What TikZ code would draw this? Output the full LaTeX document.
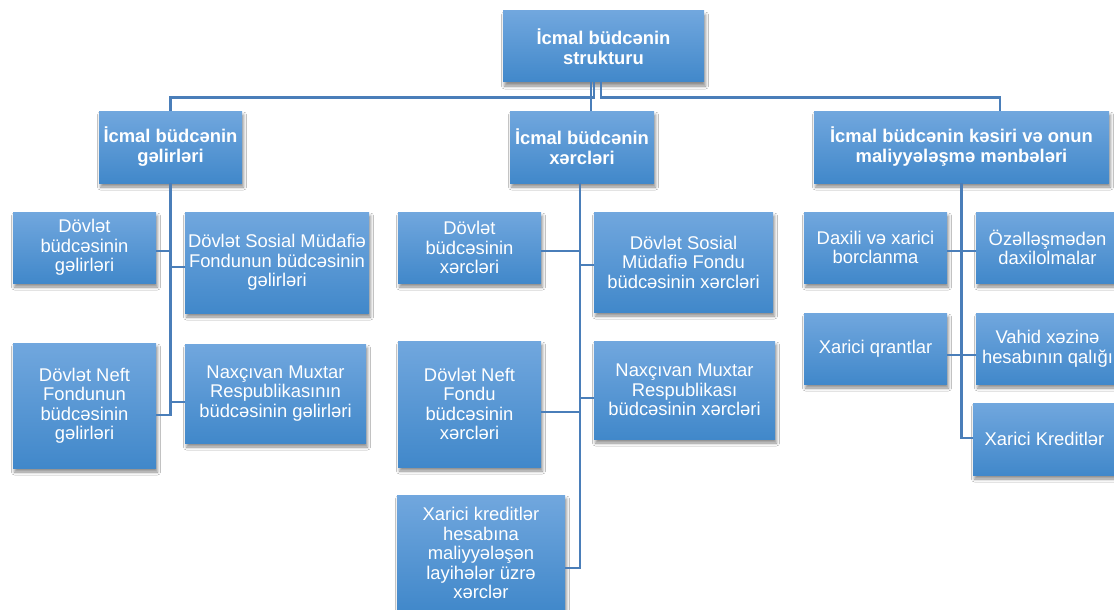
\documentclass[tikz,border=0pt]{standalone}
\usepackage{fontspec}
\setmainfont{Liberation Sans}
\usetikzlibrary{shadows.blur}
\definecolor{boxtop}{RGB}{113,167,222}
\definecolor{boxbot}{RGB}{65,136,202}
\definecolor{linec}{RGB}{74,126,185}
\tikzset{
  box/.style={rectangle, inner sep=0pt, align=center, text=white,
    top color=boxtop, bottom color=boxbot,
    blur shadow={shadow xshift=1.5pt, shadow yshift=-4pt, shadow opacity=45, shadow blur radius=3pt},
    font=\fontsize{18.4}{19.5}\selectfont},
  hbox/.style={box, font=\bfseries\fontsize{18.4}{20}\selectfont},
  conn/.style={draw=linec, line width=2.6pt}
}
\begin{document}
\begin{tikzpicture}[x=1pt,y=-1pt]
\fill[white] (0,0) rectangle (1114,610);
\useasboundingbox (0,0) rectangle (1114,610);
\clip (0,0) rectangle (1114,610);
% level 0 and 1
\node[hbox, minimum width=201pt, minimum height=71pt] (top) at (603.5,46.5) {İcmal büdcənin\\strukturu};
\node[hbox, minimum width=143pt, minimum height=72pt] (gel) at (170.5,147) {İcmal büdcənin\\gəlirləri};
\node[hbox, minimum width=144pt, minimum height=72pt] (xer) at (582,147) {İcmal büdcənin\\xərcləri};
\node[hbox, minimum width=295pt, minimum height=72pt] (kes) at (961.5,147) {İcmal büdcənin kəsiri və onun\\maliyyələşmə mənbələri};
% revenues
\node[box, minimum width=143pt, minimum height=71pt] (d1) at (84.5,247.5) {Dövlət\\büdcəsinin\\gəlirləri};
\node[box, minimum width=184pt, minimum height=101pt] (d2) at (277,262.5) {Dövlət Sosial Müdafiə\\Fondunun büdcəsinin\\gəlirləri};
\node[box, minimum width=143pt, minimum height=125pt] (d3) at (84.5,405.5) {Dövlət Neft\\Fondunun\\büdcəsinin\\gəlirləri};
\node[box, minimum width=181pt, minimum height=99pt] (d4) at (275.5,393.5) {Naxçıvan Muxtar\\Respublikasının\\büdcəsinin gəlirləri};
% expenditures
\node[box, minimum width=143pt, minimum height=71pt] (e1) at (469.5,247.5) {Dövlət\\büdcəsinin\\xərcləri};
\node[box, minimum width=179pt, minimum height=100pt] (e2) at (683.5,262) {Dövlət Sosial\\Müdafiə Fondu\\büdcəsinin xərcləri};
\node[box, minimum width=143pt, minimum height=126pt] (e3) at (469.5,404) {Dövlət Neft\\Fondu\\büdcəsinin\\xərcləri};
\node[box, minimum width=181pt, minimum height=98pt] (e4) at (684.5,390) {Naxçıvan Muxtar\\Respublikası\\büdcəsinin xərcləri};
\node[box, minimum width=168pt, minimum height=116pt] (e5) at (481,553) {Xarici kreditlər\\hesabına\\maliyyələşən\\layihələr üzrə\\xərclər};
% deficit
\node[box, minimum width=143pt, minimum height=71pt] (f1) at (875.5,247.5) {Daxili və xarici\\borclanma};
\node[box, minimum width=143pt, minimum height=71pt] (f2) at (1047.5,247.5) {Özəlləşmədən\\daxilolmalar};
\node[box, minimum width=143pt, minimum height=71pt] (f3) at (875.5,348.5) {Xarici qrantlar};
\node[box, minimum width=143pt, minimum height=71pt] (f4) at (1047.5,348.5) {Vahid xəzinə\\hesabının qalığı};
\node[box, minimum width=143pt, minimum height=72pt] (f5) at (1044.5,439) {Xarici Kreditlər};
% top connectors
\draw[conn] ([xshift=-9.5pt]top.south) -- ++(0,15) -| (gel.north);
\draw[conn] ([xshift=-12.5pt]top.south) -- ([xshift=-12.5pt]top.south |- xer.north);
\draw[conn] ([xshift=-2.5pt]top.south) -- ++(0,15) -| ([xshift=38.5pt]kes.north);
% revenue branch
\draw[conn] (gel.south) |- ([yshift=-9.5pt]d3.east);
\draw[conn] ([yshift=-3.5pt]d1.east) -- ([yshift=-3.5pt]d1.east -| gel.south);
\draw[conn] ([yshift=-4.5pt]d2.west) -- ([yshift=-4.5pt]d2.west -| gel.south);
\draw[conn] ([yshift=-8.5pt]d4.west) -- ([yshift=-8.5pt]d4.west -| gel.south);
% expenditure branch
\draw[conn] ([xshift=-2pt]xer.south) |- ([yshift=-15pt]e5.east);
\draw[conn] ([yshift=-3.5pt]e1.east) -- ([yshift=-3.5pt,xshift=-2pt]e1.east -| xer.south);
\draw[conn] ([yshift=-3pt]e2.west) -- ([yshift=-3pt,xshift=-2pt]e2.west -| xer.south);
\draw[conn] ([yshift=-8pt]e3.east) -- ([yshift=-8pt,xshift=-2pt]e3.east -| xer.south);
\draw[conn] ([yshift=-8pt]e4.west) -- ([yshift=-8pt,xshift=-2pt]e4.west -| xer.south);
% deficit branch
\draw[conn] (kes.south) |- ([yshift=1pt]f5.west);
\draw[conn] ([yshift=-3.5pt]f1.east) -- ([yshift=-3.5pt]f2.west);
\draw[conn] ([yshift=-6.5pt]f3.east) -- ([yshift=-6.5pt]f4.west);
\end{tikzpicture}
\end{document}
